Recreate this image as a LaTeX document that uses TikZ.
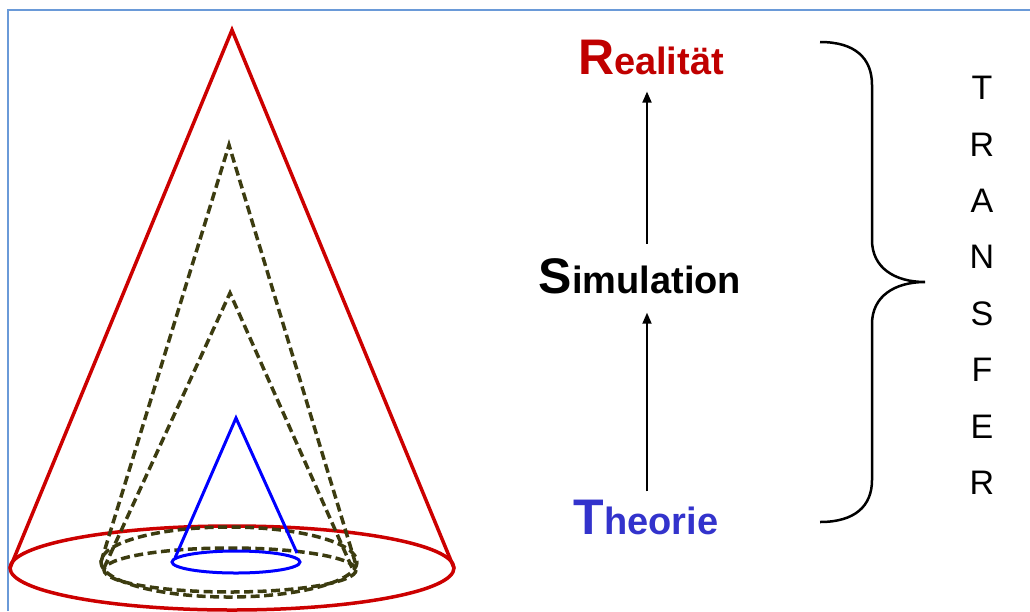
\documentclass[tikz,border=0pt]{standalone}
\usepackage{fontspec}
\setmainfont{Liberation Sans}
\usetikzlibrary{arrows.meta,calc}
\definecolor{framecol}{RGB}{106,154,216}
\definecolor{conered}{RGB}{204,0,0}
\definecolor{coneolive}{RGB}{60,60,16}
\definecolor{coneblue}{RGB}{0,0,255}
\definecolor{realred}{RGB}{192,0,0}
\definecolor{theoblue}{RGB}{51,51,204}
\begin{document}
\begin{tikzpicture}[x=1pt,y=-1pt,
  redline/.style={conered,line width=3.5pt},
  olivedash/.style={coneolive,line width=3.5pt,dash pattern=on 9pt off 4.5pt},
  blueline/.style={coneblue,line width=3pt},
  framestyle/.style={framecol,line width=2pt},
  bigword/.style={inner sep=0pt,anchor=base,font=\bfseries},
  arr/.style={line width=1.8pt,-{Triangle[length=11pt,width=9pt]}},
  bracestyle/.style={line width=2.5pt},
  letter/.style={inner sep=0pt,font=\fontsize{34}{34}\selectfont}]
\useasboundingbox (0,0) rectangle (1030,611);
\draw[framestyle] (8,611) -- (8,10) -- (1030,10);
% red cone
\draw[redline] (10,568) -- (232,30) -- (454,568);
\draw[redline] (232,568) ellipse [x radius=222,y radius=42];
% dashed cones
\draw[olivedash] (101,562) -- (229,145) -- (356,565);
\draw[olivedash] (229,562) ellipse [x radius=128,y radius=35];
\draw[olivedash] (104,568) -- (230,293) -- (353,570);
\draw[olivedash] (230,570) ellipse [x radius=126,y radius=22];
% blue cone
\draw[blueline] (175,558) -- (236,418) -- (297,553);
\draw[blueline] (236,562) ellipse [x radius=64,y radius=11];
% words
\node[bigword,realred] (real) at (651,74) {{\fontsize{50}{50}\selectfont R}{\fontsize{38}{38}\selectfont ealität}};
\node[bigword] (sim) at (640,293) {{\fontsize{50}{50}\selectfont S}{\fontsize{38}{38}\selectfont imulation}};
\node[bigword,theoblue] (theo) at (646,534) {{\fontsize{50}{50}\selectfont T}{\fontsize{38}{38}\selectfont heorie}};
\coordinate (ax) at (647,0);
\draw[arr,shorten <=14pt,shorten >=17pt] (sim.north -| ax) -- (real.south -| ax);
\draw[arr,shorten <=8pt,shorten >=19pt] (theo.north -| ax) -- (sim.south -| ax);
% brace
\draw[bracestyle] (820,42) .. controls (855,42) and (872,58) .. (872,85) -- (872,240)
  .. controls (872,268) and (895,282) .. (925,282)
  .. controls (895,282) and (872,296) .. (872,324) -- (872,480)
  .. controls (872,506) and (855,522) .. (820,522);
% TRANSFER
\foreach \L [count=\i] in {T,R,A,N,S,F,E,R}
  \node[letter] (t\i) at (982,{88+56.4*(\i-1)}) {\L};
\end{tikzpicture}
\end{document}
